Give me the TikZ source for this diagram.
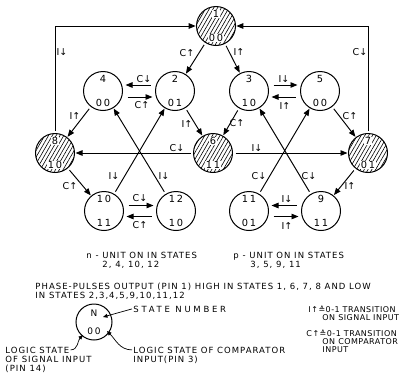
\documentclass[tikz,border=0pt]{standalone}
\usepackage{fontspec}
\setmainfont{DejaVu Sans}
\newfontfamily\lett[LetterSpace=12]{DejaVu Sans}
\newfontfamily\letts[LetterSpace=6]{DejaVu Sans}
\newfontfamily\lettw[LetterSpace=32]{DejaVu Sans}
\newfontfamily\lettn[LetterSpace=20]{DejaVu Sans}
\usetikzlibrary{arrows.meta,patterns.meta,calc}
\begin{document}
\begin{tikzpicture}[x=1pt,y=-1pt,line width=0.95pt,
  st/.style={circle,draw,line width=1pt,minimum size=39pt,inner sep=0pt},
  hat/.style={st,pattern={Lines[angle=60,distance=3.3pt,line width=0.6pt]}},
  num/.style={font=\lettn\fontsize{9.8}{9.8}\selectfont,inner sep=0.6pt},
  hnum/.style={num,fill=white},
  arr/.style={-{Triangle[length=7pt,width=5.5pt]},shorten <=2.5pt,shorten >=0.5pt},
  arrs/.style={-{Triangle[length=4.5pt,width=3.8pt]},line width=0.7pt},
  lab/.style={font=\fontsize{9.5}{9.5}\selectfont,inner sep=0pt},
  txt/.style={font=\lett\fontsize{8.5}{8.5}\selectfont,inner sep=0pt,anchor=base west},
  txts/.style={font=\letts\fontsize{8}{8}\selectfont,inner sep=0pt,anchor=base west},
  txtw/.style={font=\lettw\fontsize{8.5}{8.5}\selectfont,inner sep=0pt,anchor=base west},
]
\useasboundingbox (0,0) rectangle (409,378);

% state macro
\newcommand\mystate[5]{%
  \node[#5] (n#1) at (#2) {};
  \node[#4] (n#1t) at ($(n#1)+(0,-12)$) {#1};
  \node[#4] (n#1b) at ($(n#1)+(0,12)$) {#3};}

\mystate{1}{216,26}{00}{hnum}{hat}
\mystate{2}{175,91}{01}{num}{st}
\mystate{3}{249,91}{10}{num}{st}
\mystate{4}{103,91}{00}{num}{st}
\mystate{5}{320,91}{00}{num}{st}
\mystate{6}{213,153}{11}{hnum}{hat}
\mystate{7}{368,153}{01}{hnum}{hat}
\mystate{8}{55,153}{10}{hnum}{hat}
\mystate{9}{321,211}{11}{num}{st}
\mystate{10}{104,211}{11}{num}{st}
\mystate{11}{249,211}{01}{num}{st}
\mystate{12}{176,211}{10}{num}{st}

% connectors
\draw[arr] (n1) -- (n2);
\draw[arr] (n1) -- (n3);
\draw[arr] ([shift={(-2pt,6pt)}]n2.west) -- ([shift={(2pt,6pt)}]n4.east);
\draw[arr] ([shift={(2pt,-6pt)}]n4.east) -- ([shift={(-2pt,-6pt)}]n2.west);
\draw[arr] ([shift={(2pt,6pt)}]n3.east) -- ([shift={(-2pt,6pt)}]n5.west);
\draw[arr] ([shift={(-2pt,-6pt)}]n5.west) -- ([shift={(2pt,-6pt)}]n3.east);
\draw[arr] (n4) -- (n8);
\draw[arr] (n2) -- (n6);
\draw[arr] (n3) -- (n6);
\draw[arr] (n5) -- (n7);
\draw[arr] (n6) -- (n8);
\draw[arr] (n6) -- (n7);
\draw[arr] (n8) -- (n10);
\draw[arr] (n7) -- (n9);
\draw[arr] ([shift={(2pt,5.5pt)}]n10.east) -- ([shift={(-2pt,5.5pt)}]n12.west);
\draw[arr] ([shift={(-2pt,-5.5pt)}]n12.west) -- ([shift={(2pt,-5.5pt)}]n10.east);
\draw[arr] ([shift={(-2pt,5.5pt)}]n9.west) -- ([shift={(2pt,5.5pt)}]n11.east);
\draw[arr] ([shift={(2pt,-5.5pt)}]n11.east) -- ([shift={(-2pt,-5.5pt)}]n9.west);
\draw[arr] (n10) -- (n2);
\draw[arr] (n12) -- (n4);
\draw[arr] (n11) -- (n5);
\draw[arr] (n9) -- (n3);
\draw[arr] (n8) |- (n1);
\draw[arr] (n7) |- (n1);

% connector labels
\node[lab] (l12) at (187,53) {C↑};
\node[lab] (l13) at (239,52) {I↑};
\node[lab] (l24) at (144,79) {C↓};
\node[lab] (l42) at (142,105) {C↑};
\node[lab] (l35) at (284,79) {I↓};
\node[lab] (l53) at (285,106) {I↑};
\node[lab] (l48) at (75,116) {I↑};
\node[lab] (l26) at (187,124) {I↑};
\node[lab] (l36) at (237,123) {C↑};
\node[lab] (l57) at (350,116) {C↑};
\node[lab] (l68) at (177,148) {C↓};
\node[lab] (l67) at (257,148) {I↓};
\node[lab] (l810) at (70,186) {C↑};
\node[lab] (l79) at (350,186) {I↑};
\node[lab] (l1012) at (140,198) {C↓};
\node[lab] (l1210) at (140,225) {C↑};
\node[lab] (l911) at (287,199) {I↓};
\node[lab] (l119) at (287,226) {I↑};
\node[lab] (l102) at (114,176) {I↓};
\node[lab] (l124) at (164,176) {I↓};
\node[lab] (l115) at (259,176) {C↓};
\node[lab] (l93) at (309,176) {C↓};
\node[lab] (l81) at (62,52) {I↓};
\node[lab] (l71) at (360,52) {C↓};

% notes
\node[txt] (tn1) at (86,258) {n - UNIT ON IN STATES};
\node[txt] (tn2) at (102,267) {2, 4, 10, 12};
\node[txt] (tp1) at (233,258) {p - UNIT ON IN STATES};
\node[txt] (tp2) at (250,267) {3, 5, 9, 11};
\node[txt] (tph1) at (35,289) {PHASE-PULSES OUTPUT (PIN 1) HIGH IN STATES 1, 6, 7, 8 AND LOW};
\node[txt] (tph2) at (35,298) {IN STATES 2,3,4,5,9,10,11,12};

% legend
\node[st,minimum size=36pt] (lg) at (94,322) {};
\node[num,font=\lettn\fontsize{9}{9}\selectfont] (lgN) at (94,313) {N};
\node[num,font=\lettn\fontsize{9}{9}\selectfont] (lg0) at (94,331) {00};
\node[txtw] (tsn) at (133,312) {STATE NUMBER};
\node[txt] (tl1) at (5,353) {LOGIC STATE};
\node[txt] (tl2) at (5,362) {OF SIGNAL INPUT};
\node[txt] (tl3) at (5,371) {(PIN 14)};
\node[txt] (tr1) at (133,353) {LOGIC STATE OF COMPARATOR};
\node[txt] (tr2) at (133,362) {INPUT(PIN 3)};
\coordinate (pN) at (103,317);
\coordinate (pL) at (83,335);
\coordinate (pR) at (107,331);
\draw[arrs] ([xshift=-1pt]tsn.west) -- (pN);
\draw[arrs] ([xshift=1pt]tl1.east) to[out=0,in=225] (pL);
\draw[arrs] ([xshift=-1pt]tr1.west) to[out=180,in=-45] (pR);

\node[txts] (ts1) at (308,312) {I↑≙0-1 TRANSITION};
\node[txts] (ts2) at (322,320) {ON SIGNAL INPUT};
\node[txts] (tc1) at (306,336) {C↑≙0-1 TRANSITION};
\node[txts] (tc2) at (322,344) {ON COMPARATOR};
\node[txts] (tc3) at (322,352) {INPUT};
\end{tikzpicture}
\end{document}
